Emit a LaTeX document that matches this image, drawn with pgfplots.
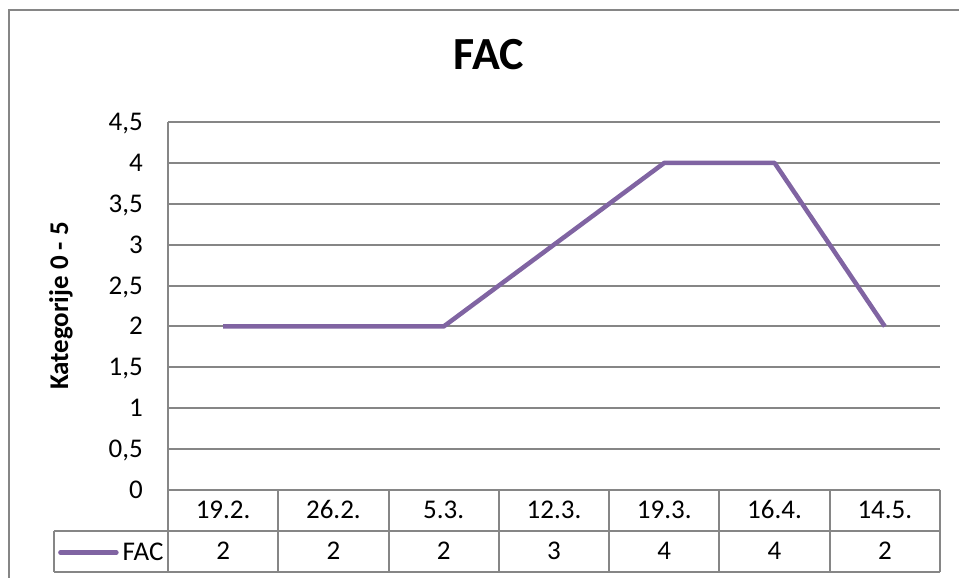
\documentclass[border=0pt]{standalone}
\usepackage{fontspec}
\setmainfont{Carlito}
\usepackage{pgfplots}
\pgfplotsset{compat=1.18}
\definecolor{facpurple}{RGB}{128,100,162}
\definecolor{gridgray}{RGB}{134,134,134}
\begin{document}
\begin{tikzpicture}
\path[use as bounding box] (0pt,0pt) rectangle (959pt,578pt);
% outer chart frame
\draw[gridgray, line width=2pt] (9pt,0pt) -- (9pt,568pt) -- (960pt,568pt);
\begin{axis}[
  at={(168pt,88pt)}, anchor=south west,
  scale only axis, width=772pt, height=368pt,
  xmin=-0.5, xmax=6.5, ymin=0, ymax=4.5,
  axis x line*=bottom, axis y line*=left,
  axis line style={gridgray, line width=2pt, -},
  ymajorgrids, grid style={gridgray, line width=2pt},
  major tick length=0pt,
  ytick={0,0.5,1,1.5,2,2.5,3,3.5,4,4.5},
  yticklabels={0,{0,5},1,{1,5},2,{2,5},3,{3,5},4,{4,5}},
  yticklabel style={anchor=east, inner sep=0pt, xshift=-25pt, text height=17pt, text depth=0pt},
  xtick={0,1,2,3,4,5,6},
  xticklabels={19.2.,26.2.,5.3.,12.3.,19.3.,16.4.,14.5.},
  xticklabel style={anchor=center, inner sep=0pt, yshift=-20pt, text height=17pt, text depth=0pt},
  extra x ticks={0,1,2,3,4,5,6},
  extra x tick labels={2,2,2,3,4,4,2},
  extra x tick style={xmajorgrids=false, xticklabel style={yshift=-41pt}},
  tick label style={font=\fontsize{27}{32}\selectfont},
  /pgf/number format/assume math mode=true,
  ylabel={Kategorije 0 - 5},
  every axis y label/.style={at={(axis description cs:-0.1386,0.5)}, rotate=90, anchor=center, font=\fontsize{27}{32}\selectfont\bfseries},
  title={FAC},
  title style={at={(axis description cs:0.4158,1.1658)}, anchor=center, font=\fontsize{46}{52}\selectfont\bfseries},
  legend style={at={(axis description cs:-0.1425,-0.1700)}, anchor=west, draw=none, fill=none, inner sep=0pt, font=\fontsize{27}{32}\selectfont,
    /tikz/every odd column/.append style={column sep=2pt}},
  legend image code/.code={\draw[#1, line width=4.5pt, line cap=round] (0pt,0pt) -- (56pt,0pt);},
  clip=false,
]
\addplot[facpurple, line width=4.5pt, line join=round] coordinates {
  (0,2) (1,2) (2,2) (3,3) (4,4) (5,4) (6,2)
};
\addlegendentry{FAC}
\end{axis}
% data table grid
\draw[gridgray, line width=2pt] (168pt,47pt) -- (940pt,47pt);
\draw[gridgray, line width=2pt] (54pt,6pt) -- (940pt,6pt);
\draw[gridgray, line width=2pt] (54pt,47pt) -- (168pt,47pt);
\draw[gridgray, line width=2pt] (54pt,47pt) -- (54pt,6pt);
\foreach \k in {0,...,7} {
  \draw[gridgray, line width=2pt] ({168pt+\k*110.286pt},88pt) -- ({168pt+\k*110.286pt},6pt);
}
\end{tikzpicture}
\end{document}
